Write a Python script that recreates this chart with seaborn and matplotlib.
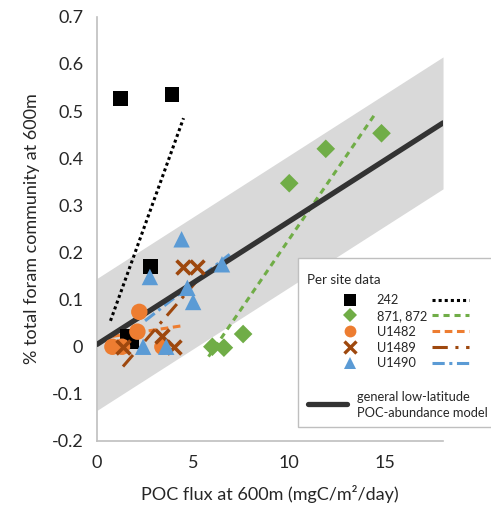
import matplotlib
matplotlib.use('Agg')
import matplotlib.pyplot as plt
from matplotlib.lines import Line2D
from matplotlib.patches import Rectangle
import seaborn as sns
import pandas as pd

# data
x_242 = [1.2, 3.9, 2.8, 1.6, 1.8]
y_242 = [0.527, 0.536, 0.17, 0.022, 0.012]
x_871 = [6.0, 6.6, 7.6, 10.0, 11.9, 14.8]
y_871 = [0.0, -0.002, 0.027, 0.347, 0.42, 0.453]
x_1482 = [0.8, 1.3, 2.2, 2.1, 3.4]
y_1482 = [0.0, 0.0, 0.074, 0.032, 0.0]
x_1489 = [1.35, 3.4, 4.0, 4.45, 5.2]
y_1489 = [0.0, 0.023, 0.0, 0.17, 0.17]
x_1490 = [2.4, 3.6, 2.75, 4.4, 4.7, 5.0, 6.5]
y_1490 = [0.0, 0.0, 0.148, 0.228, 0.125, 0.095, 0.175]

# per-site trend lines (end points)
trend_x = {'242': [0.7, 4.5], '871, 872': [5.8, 14.4], 'U1482': [0.8, 4.5],
           'U1489': [1.35, 5.2], 'U1490': [2.5, 6.9]}
trend_y = {'242': [0.055, 0.485], '871, 872': [-0.021, 0.49], 'U1482': [0.022, 0.045],
           'U1489': [-0.042, 0.14], 'U1490': [0.055, 0.196]}

# general model and its band
model_x = [0, 18]
model_y = [0.005, 0.475]
band_lo = [-0.135, 0.335]
band_hi = [0.145, 0.615]

xticks = [0, 5, 10, 15]
yticks = [-0.2, -0.1, 0, 0.1, 0.2, 0.3, 0.4, 0.5, 0.6, 0.7]
ytick_labels = ['-0.2', '-0.1', '0', '0.1', '0.2', '0.3', '0.4', '0.5', '0.6', '0.7']

sites = ['242', '871, 872', 'U1482', 'U1489', 'U1490']
colors = {'242': '#000000', '871, 872': '#70ad47', 'U1482': '#ed7d31',
          'U1489': '#9e480e', 'U1490': '#5b9bd5'}
markers = {'242': 's', '871, 872': 'D', 'U1482': 'o', 'U1489': 'x', 'U1490': '^'}
msizes = {'242': 115, '871, 872': 90, 'U1482': 140, 'U1489': 100, 'U1490': 140}
lstyles = {'242': (0, (1, 1)), '871, 872': (0, (2, 1.6)), 'U1482': (0, (2.5, 1.5)),
           'U1489': (0, (5, 2.5, 1, 2.5)), 'U1490': (0, (4, 1.5, 1, 1.5))}

pts = pd.concat([
    pd.DataFrame({'x': x_242, 'y': y_242, 'site': '242'}),
    pd.DataFrame({'x': x_871, 'y': y_871, 'site': '871, 872'}),
    pd.DataFrame({'x': x_1482, 'y': y_1482, 'site': 'U1482'}),
    pd.DataFrame({'x': x_1489, 'y': y_1489, 'site': 'U1489'}),
    pd.DataFrame({'x': x_1490, 'y': y_1490, 'site': 'U1490'}),
])

sns.set_style('white')
plt.rcParams['font.family'] = ['Lato', 'DejaVu Sans']

fig = plt.figure(figsize=(4.91, 5.11), dpi=100)
ax = fig.add_axes([0.1976, 0.137, 0.7047, 0.830])

ax.fill_between(model_x, band_lo, band_hi, color='#d9d9d9', lw=0, zorder=1)

for s in sites:
    sns.lineplot(x=trend_x[s], y=trend_y[s], ax=ax, color=colors[s], lw=2.2,
                 linestyle=lstyles[s], zorder=2)

sns.lineplot(x=model_x, y=model_y, ax=ax, color='#333333', lw=3.8, zorder=3)

for s in sites:
    d = pts[pts.site == s]
    if markers[s] == 'x':
        sns.scatterplot(data=d, x='x', y='y', ax=ax, marker='x', color=colors[s],
                        s=msizes[s], linewidth=2.6, zorder=4)
    else:
        sns.scatterplot(data=d, x='x', y='y', ax=ax, marker=markers[s], color=colors[s],
                        s=msizes[s], edgecolor='none', zorder=4)

ax.set_xlim(0, 18)
ax.set_ylim(-0.2, 0.7)
ax.set_xticks(xticks)
ax.set_yticks(yticks)
ax.set_yticklabels(ytick_labels)
ax.set_xlabel('POC flux at 600m (mgC/m²/day)', fontsize=13, labelpad=10)
ax.set_ylabel('% total foram community at 600m', fontsize=13, labelpad=8)
ax.tick_params(direction='in', length=7, width=1, color='#bfbfbf', labelsize=13, pad=10)
for sp in ['top', 'right']:
    ax.spines[sp].set_visible(False)
for sp in ['left', 'bottom']:
    ax.spines[sp].set_color('#bfbfbf')
    ax.spines[sp].set_linewidth(1.2)

# legend box
fig.add_artist(Rectangle((298 / 491, 1 - 427 / 511), 0.40, (427 - 258) / 511,
                         transform=fig.transFigure, facecolor='white',
                         edgecolor='#bfbfbf', lw=1, zorder=4))
fig.text(307 / 491, 1 - 280 / 511, 'Per site data', fontsize=9.6, va='center', zorder=6)

leg_kw = dict(frameon=False, loc='upper left', borderpad=0, borderaxespad=0,
              fontsize=9.2, labelspacing=0.3)
top = 1 - 294 / 511

# markers + site names
mk_handles = [Line2D([], [], marker=markers[s], color=colors[s], linestyle='none',
                     markersize=8.5 if markers[s] != 'D' else 7.5,
                     markeredgewidth=2.4 if markers[s] == 'x' else 0)
              for s in sites]
leg = fig.legend(handles=mk_handles, labels=sites, bbox_to_anchor=(337 / 491, top),
                 handlelength=2.0, handletextpad=1.1, **leg_kw)
leg.set_zorder(6)

# trend line samples, same rows
ln_handles = [Line2D([], [], color=colors[s], linestyle=lstyles[s], lw=2.2) for s in sites]
leg3 = fig.legend(handles=ln_handles, labels=[''] * 5, bbox_to_anchor=(432 / 491, top),
                  handlelength=2.9, handletextpad=0, **leg_kw)
leg3.set_zorder(6)

# model entry
leg2 = fig.legend(handles=[Line2D([], [], color='#333333', lw=3.8)], labels=[''],
                  frameon=False, loc='center left', bbox_to_anchor=(308 / 491, 1 - 405 / 511),
                  borderpad=0, borderaxespad=0, handlelength=2.9, handletextpad=0,
                  fontsize=9.6)
leg2.set_zorder(6)
fig.text(357 / 491, 1 - 405 / 511, 'general low-latitude\nPOC-abundance model',
         fontsize=9.3, va='center', ha='left', linespacing=1.35, zorder=6)

fig.savefig('out.png', dpi=100)
